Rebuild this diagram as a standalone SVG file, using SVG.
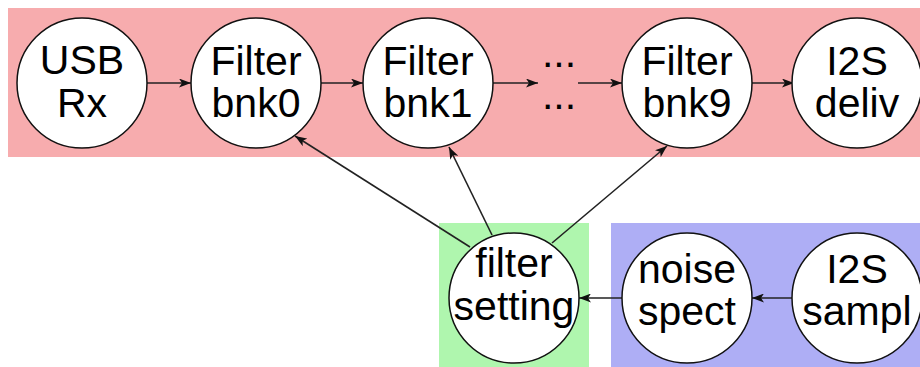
<svg xmlns="http://www.w3.org/2000/svg" width="920" height="367" viewBox="0 0 920 367">
<style>
.node circle{fill:#fff;stroke:#111;stroke-width:1.5}
.node text,.lbl{font-family:"Liberation Sans",Arial,sans-serif;font-size:41px;fill:#000;text-anchor:middle}
.edge{stroke:#222;stroke-width:1.6;fill:none;marker-end:url(#ah)}
</style>
<defs>
<marker id="ah" markerWidth="13" markerHeight="9" refX="12" refY="4.5" orient="auto" markerUnits="userSpaceOnUse">
<path d="M0,0 L12,4.5 L0,9 L3,4.5 Z" fill="#111"/>
</marker>
</defs>
<rect x="8" y="8" width="912" height="149" fill="#f7acae"/>
<rect x="439" y="223" width="150" height="144" fill="#aff6ae"/>
<rect x="611" y="223" width="309" height="144" fill="#aeaef5"/>
<g id="connectors">
<line class="edge" x1="147" y1="83" x2="191" y2="83"/>
<line class="edge" x1="321" y1="83" x2="363" y2="83"/>
<line class="edge" x1="493" y1="83" x2="538" y2="83"/>
<line class="edge" x1="578" y1="83" x2="622" y2="83"/>
<line class="edge" x1="752" y1="83" x2="794" y2="83"/>
<line class="edge" x1="792" y1="298" x2="752" y2="298"/>
<line class="edge" x1="622" y1="298" x2="579" y2="298"/>
<line class="edge" x1="470" y1="247" x2="295" y2="136"/>
<line class="edge" x1="492" y1="235" x2="449" y2="147"/>
<line class="edge" x1="552" y1="243" x2="667" y2="146"/>
</g>
<g id="usb_rx" class="node"><circle cx="82" cy="83" r="65"/><text x="82" y="74">USB</text><text x="82" y="117">Rx</text></g>
<g id="filter_bnk0" class="node"><circle cx="256" cy="83" r="65"/><text x="256" y="75">Filter</text><text x="256" y="117">bnk0</text></g>
<g id="filter_bnk1" class="node"><circle cx="428" cy="83" r="65"/><text x="428" y="75">Filter</text><text x="428" y="117">bnk1</text></g>
<g id="ellipsis" class="node"><text x="559" y="67">...</text><text x="559" y="109">...</text></g>
<g id="filter_bnk9" class="node"><circle cx="687" cy="83" r="65"/><text x="687" y="75">Filter</text><text x="687" y="117">bnk9</text></g>
<g id="i2s_deliv" class="node"><circle cx="857" cy="83" r="65"/><text x="857" y="75">I2S</text><text x="857" y="117">deliv</text></g>
<g id="filter_setting" class="node"><circle cx="514" cy="298" r="65"/><text x="514" y="277">filter</text><text x="514" y="320">setting</text></g>
<g id="noise_spect" class="node"><circle cx="687" cy="298" r="65"/><text x="687" y="283">noise</text><text x="687" y="325">spect</text></g>
<g id="i2s_sampl" class="node"><circle cx="857" cy="298" r="65"/><text x="857" y="283">I2S</text><text x="857" y="325">sampl</text></g>
</svg>
